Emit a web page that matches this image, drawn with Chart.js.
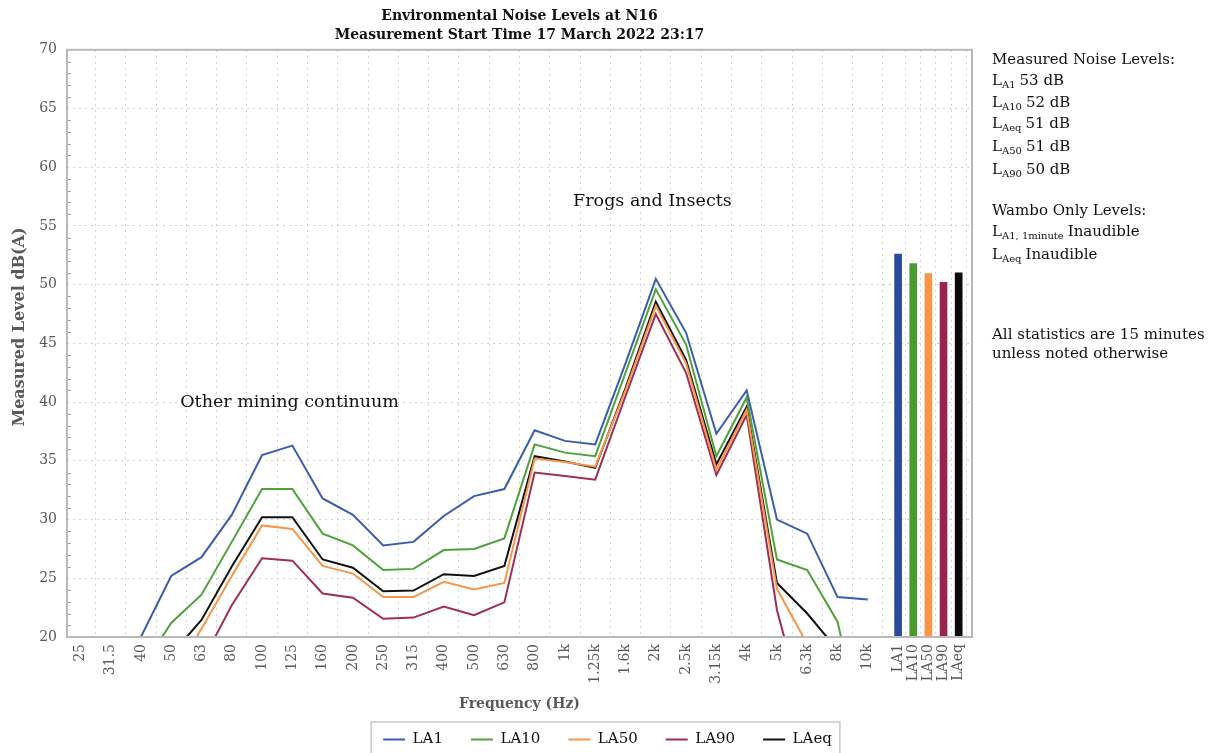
<!DOCTYPE html>
<html>
<head>
<meta charset="utf-8">
<script src="https://cdn.jsdelivr.net/npm/chart.js@4.4.1/dist/chart.umd.min.js"></script>
<style>
html, body { margin: 0; padding: 0; background: #fff; }
</style>
</head>
<body>
<canvas id="noiseChart" width="1215" height="753"></canvas>
<script>
// third octave bands (Hz) and the overall statistics shown as bars
const freqLabels = ['25', '31.5', '40', '50', '63', '80', '100', '125', '160', '200', '250', '315', '400', '500', '630', '800', '1k', '1.25k', '1.6k', '2k', '2.5k', '3.15k', '4k', '5k', '6.3k', '8k', '10k'];
const statLabels = ['LA1', 'LA10', 'LA50', 'LA90', 'LAeq'];

// spectrum levels dB(A) per band
const la1  = [16, 17, 20.0, 25.2, 26.8, 30.4, 35.5, 36.3, 31.8, 30.4, 27.8, 28.1, 30.3, 32.0, 32.6, 37.6, 36.7, 36.4, 43.3, 50.5, 45.9, 37.3, 41.0, 30.0, 28.8, 23.4, 23.2];
const la10 = [11, 13, 17.2, 21.2, 23.6, 28.1, 32.6, 32.6, 28.8, 27.8, 25.7, 25.8, 27.4, 27.5, 28.4, 36.4, 35.7, 35.4, 42.5, 49.6, 44.9, 35.4, 40.4, 26.6, 25.7, 21.3, 10];
const la50 = [9, 11, 13, 16.5, 20.7, 25.2, 29.5, 29.2, 26.05, 25.4, 23.4, 23.4, 24.7, 24.05, 24.6, 35.2, 34.9, 34.5, 41.0, 48.2, 43.3, 34.25, 39.35, 24.1, 19.4, 15, 12];
const la90 = [8, 10, 12, 14, 17.8, 22.7, 26.7, 26.5, 23.7, 23.35, 21.55, 21.65, 22.6, 21.85, 22.95, 34.0, 33.7, 33.4, 40.5, 47.5, 42.5, 33.8, 38.9, 22.3, 12.7, 10, 9];
const laeq = [10, 12, 15, 18.5, 21.45, 26.0, 30.2, 30.2, 26.6, 25.9, 23.9, 23.95, 25.35, 25.2, 26.05, 35.4, 34.95, 34.4, 41.2, 48.55, 43.6, 34.7, 39.6, 24.6, 22.0, 18.9, 14];

// overall levels (bars at the right)
const statValues = [52.6, 51.8, 50.95, 50.2, 51.0];

// y axis
const yMin = 20, yMax = 70, yStep = 5;

const lineColors = ['#3A5DAE', '#4EA23A', '#F79646', '#A02D55', '#111111'];
const barColors  = ['#2A4A9E', '#4A9B2F', '#F79646', '#9A2350', '#0A0A0A'];

const serif = "'DejaVu Serif', 'Liberation Serif', serif";
const grey = '#595959';

// x positions: bands on whole numbers, statistics at half steps after them
const xPos = freqLabels.map((l, i) => i);
const statPos = statLabels.map((l, i) => freqLabels.length + i * 0.5);
const tickPos = xPos.concat(statPos);
const tickText = freqLabels.concat(statLabels);

function series(label, values, color) {
    return {
        type: 'line',
        label: label,
        data: values.map((v, i) => ({ x: xPos[i], y: v })),
        borderColor: color,
        backgroundColor: color,
        borderWidth: 2,
        pointRadius: 0,
        tension: 0
    };
}

// minor ticks, frame, notes and the side text
const decorations = {
    id: 'decorations',
    beforeDatasetsDraw(chart) {
        const { ctx, chartArea: a, scales } = chart;
        ctx.save();
        ctx.strokeStyle = '#a6a6a6';
        ctx.lineWidth = 1;
        for (let v = yMin + 1; v < yMax; v++) {
            if (v % yStep === 0) continue;
            const y = Math.round(scales.y.getPixelForValue(v)) + 0.5;
            ctx.beginPath();
            ctx.moveTo(a.left, y);
            ctx.lineTo(a.left + 4, y);
            ctx.stroke();
        }
        ctx.restore();
    },
    afterDraw(chart) {
        const { ctx, chartArea: a, scales } = chart;
        ctx.save();
        // plot frame
        ctx.strokeStyle = '#b8b8b8';
        ctx.lineWidth = 2;
        ctx.strokeRect(a.left, a.top, a.right - a.left, a.bottom - a.top);

        // y axis title (sits a little above the middle in the original)
        ctx.save();
        ctx.translate(20, 327);
        ctx.rotate(-Math.PI / 2);
        ctx.fillStyle = grey;
        ctx.font = 'bold 16px ' + serif;
        ctx.textAlign = 'center';
        ctx.textBaseline = 'middle';
        ctx.fillText('Measured Level dB(A)', 0, 0);
        ctx.restore();

        // notes inside the plot
        ctx.fillStyle = '#111';
        ctx.font = '17.5px ' + serif;
        ctx.textAlign = 'left';
        ctx.textBaseline = 'middle';
        ctx.fillText('Other mining continuum', scales.x.getPixelForValue(3.3), scales.y.getPixelForValue(40));
        ctx.fillText('Frogs and Insects', scales.x.getPixelForValue(16.27), scales.y.getPixelForValue(57.1));

        // side text
        const x0 = 992;
        const big = '15px ' + serif;
        const small = '10px ' + serif;
        function lvl(y, sub, rest) {
            ctx.font = big;
            ctx.fillText('L', x0, y);
            let x = x0 + ctx.measureText('L').width;
            ctx.font = small;
            ctx.fillText(sub, x, y + 4);
            x += ctx.measureText(sub).width + 4;
            ctx.font = big;
            ctx.fillText(rest, x, y);
        }
        ctx.font = big;
        ctx.fillText('Measured Noise Levels:', x0, 60);
        lvl(81, 'A1', '53 dB');
        lvl(103, 'A10', '52 dB');
        lvl(124, 'Aeq', '51 dB');
        lvl(147, 'A50', '51 dB');
        lvl(170, 'A90', '50 dB');
        ctx.font = big;
        ctx.fillText('Wambo Only Levels:', x0, 211);
        lvl(232, 'A1, 1minute', 'Inaudible');
        lvl(255, 'Aeq', 'Inaudible');
        ctx.font = big;
        ctx.fillText('All statistics are 15 minutes', x0, 335);
        ctx.fillText('unless noted otherwise', x0, 354);

        // legend frame
        const boxes = chart.legend.legendHitBoxes;
        if (boxes && boxes.length) {
            const l = Math.min(...boxes.map(b => b.left));
            const r = Math.max(...boxes.map(b => b.left + b.width));
            const t = boxes[0].top;
            ctx.strokeStyle = '#c8c8c8';
            ctx.lineWidth = 1.5;
            ctx.strokeRect(l - 12, t - 10, r - l + 20, 60);
        }
        ctx.restore();
    }
};

const ctx = document.getElementById('noiseChart').getContext('2d');
const noiseChart = new Chart(ctx, {
    type: 'line',
    data: {
        datasets: [
            series('LA1', la1, lineColors[0]),
            series('LA10', la10, lineColors[1]),
            series('LA50', la50, lineColors[2]),
            series('LA90', la90, lineColors[3]),
            series('LAeq', laeq, lineColors[4]),
            {
                type: 'bar',
                label: 'stats',
                data: statValues.map((v, i) => ({ x: statPos[i], y: v })),
                backgroundColor: barColors,
                barThickness: 7
            }
        ]
    },
    options: {
        responsive: false,
        animation: false,
        layout: { padding: { top: 0, left: 0, right: 0, bottom: -4 } },
        plugins: {
            title: {
                display: true,
                fullSize: false,
                text: ['Environmental Noise Levels at N16', 'Measurement Start Time 17 March 2022 23:17'],
                color: '#111',
                font: { family: serif, size: 14, weight: 'bold', lineHeight: 1.35 },
                padding: { top: 7, bottom: 5 }
            },
            legend: {
                position: 'bottom',
                labels: {
                    usePointStyle: true,
                    pointStyle: 'line',
                    pointStyleWidth: 22,
                    padding: 28,
                    color: '#111',
                    font: { family: serif, size: 15 },
                    filter: item => item.datasetIndex < 5
                }
            },
            tooltip: { enabled: false }
        },
        scales: {
            x: {
                type: 'linear',
                min: -0.44,
                max: 29.44,
                offset: false,
                afterBuildTicks: s => { s.ticks = tickPos.map(v => ({ value: v })); },
                afterFit: s => { s.height = 67; },
                ticks: {
                    autoSkip: false,
                    minRotation: 90,
                    maxRotation: 90,
                    padding: 7,
                    color: grey,
                    font: { family: serif, size: 14 },
                    callback: (v, i) => tickText[i]
                },
                grid: { color: '#cfcfcf', drawTicks: false },
                border: { display: false, dash: [2, 4] },
                title: {
                    display: true,
                    text: 'Frequency (Hz)',
                    color: grey,
                    font: { family: serif, size: 14, weight: 'bold' },
                    padding: { top: 0, bottom: -9 }
                }
            },
            y: {
                type: 'linear',
                min: yMin,
                max: yMax,
                afterFit: s => { s.width = 67; },
                ticks: {
                    stepSize: yStep,
                    padding: 10,
                    color: grey,
                    font: { family: serif, size: 14 }
                },
                grid: { color: '#cfcfcf', drawTicks: false },
                border: { display: false, dash: [2, 4] }
            },
            side: {
                type: 'linear',
                position: 'right',
                afterFit: s => { s.width = 243; },
                ticks: { display: false },
                grid: { display: false },
                border: { display: false }
            }
        }
    },
    plugins: [decorations]
});
</script>
</body>
</html>
